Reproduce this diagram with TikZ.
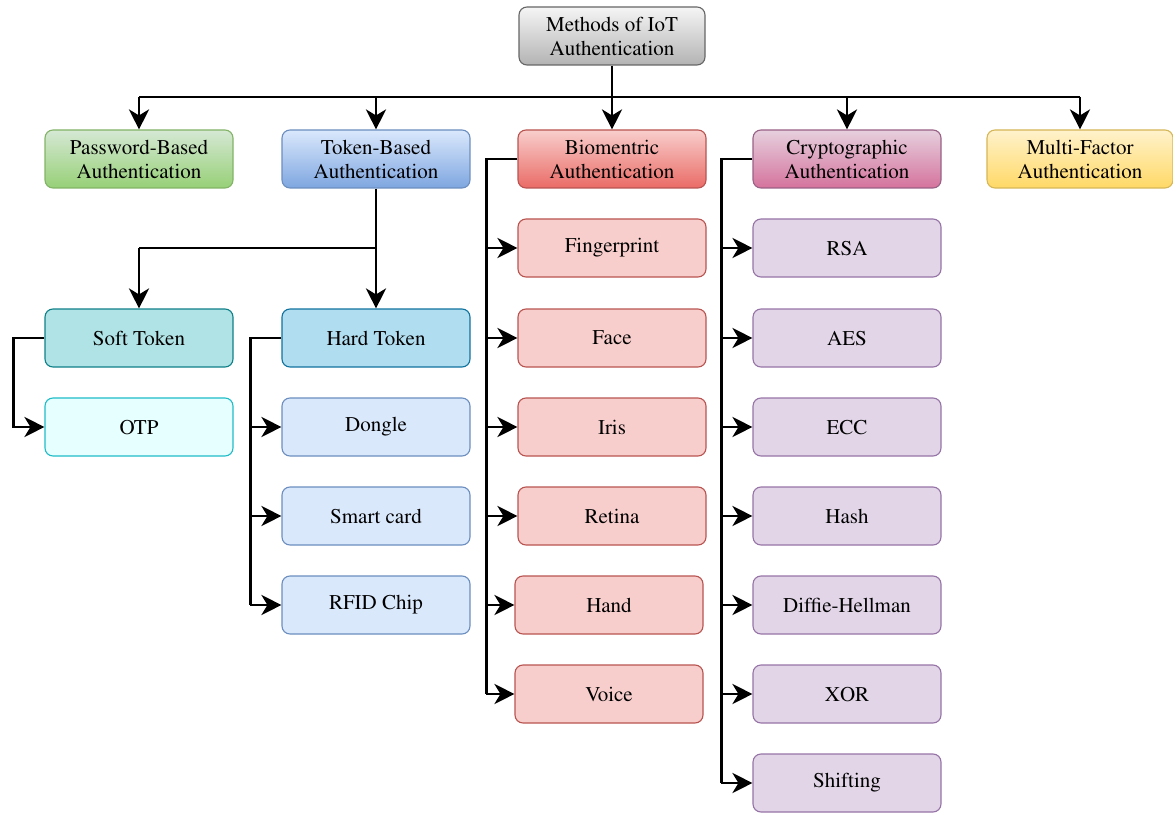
\documentclass[tikz,border=0pt]{standalone}
\usepackage[T1]{fontenc}
\usepackage{mathptmx}
\usetikzlibrary{arrows.meta,calc}

% palette
\definecolor{rootTop}{HTML}{F5F5F5}\definecolor{rootBot}{HTML}{B3B3B3}\definecolor{rootLine}{HTML}{666666}
\definecolor{grTop}{HTML}{D5E8D4}\definecolor{grBot}{HTML}{97D077}\definecolor{grLine}{HTML}{82B366}
\definecolor{blTop}{HTML}{DAE8FC}\definecolor{blBot}{HTML}{7EA6E0}\definecolor{blLine}{HTML}{6C8EBF}
\definecolor{rdTop}{HTML}{F8CECC}\definecolor{rdBot}{HTML}{EA6B66}\definecolor{rdLine}{HTML}{B85450}
\definecolor{pkTop}{HTML}{E6D0DE}\definecolor{pkBot}{HTML}{D5739D}\definecolor{pkLine}{HTML}{996185}
\definecolor{ylTop}{HTML}{FFF2CC}\definecolor{ylBot}{HTML}{FFD966}\definecolor{ylLine}{HTML}{D6B656}
\definecolor{softFill}{HTML}{B0E3E6}\definecolor{softLine}{HTML}{0E8088}
\definecolor{hardFill}{HTML}{B1DDF0}\definecolor{hardLine}{HTML}{10739E}
\definecolor{otpFill}{HTML}{E6FFFF}\definecolor{otpLine}{HTML}{1FBCC8}
\definecolor{purFill}{HTML}{E1D5E7}\definecolor{purLine}{HTML}{9673A6}

\tikzset{
  box/.style={rectangle, rounded corners=8pt, minimum width=188pt, minimum height=58pt,
    line width=1.1pt, align=center, inner sep=0pt, text=black,
    font=\fontsize{21}{24}\selectfont},
  grad/.style n args={3}{box, draw=#3, top color=#1, bottom color=#2, shading angle=0},
  flat/.style n args={2}{box, draw=#2, fill=#1},
  link/.style={line width=2.9pt, black},
  conn/.style={link, -{Stealth[length=20pt, width=20pt, inset=6pt]}},
}

\begin{document}
\begin{tikzpicture}[x=1pt, y=-1pt]
\useasboundingbox (0,0) rectangle (1173,813);

% root
\node[grad={rootTop}{rootBot}{rootLine}, minimum width=186pt] (root) at (612,36) {Methods of IoT\\Authentication};

% categories
\node[grad={grTop}{grBot}{grLine}] (pwd) at (139,159) {Password-Based\\Authentication};
\node[grad={blTop}{blBot}{blLine}] (tok) at (376,159) {Token-Based\\Authentication};
\node[grad={rdTop}{rdBot}{rdLine}] (bio) at (612,159) {Biomentric\\Authentication};
\node[grad={pkTop}{pkBot}{pkLine}] (cry) at (847,159) {Cryptographic\\Authentication};
\node[grad={ylTop}{ylBot}{ylLine}, minimum width=186pt] (mfa) at (1080,159) {Multi-Factor\\Authentication};

% token sub-branches
\node[flat={softFill}{softLine}] (soft) at (139,338) {Soft Token};
\node[flat={hardFill}{hardLine}] (hard) at (376,338) {Hard Token};
\node[flat={otpFill}{otpLine}] (otp) at (139,427) {OTP};
\node[flat={blTop}{blLine}] (dongle) at (376,427) {Dongle};
\node[flat={blTop}{blLine}] (smart) at (376,516) {Smart card};
\node[flat={blTop}{blLine}] (rfid) at (376,605) {RFID Chip};

% biometric items
\node[flat={rdTop}{rdLine}] (finger) at (612,248) {Fingerprint};
\node[flat={rdTop}{rdLine}] (face) at (612,338) {Face};
\node[flat={rdTop}{rdLine}] (iris) at (612,427) {Iris};
\node[flat={rdTop}{rdLine}] (retina) at (612,516) {Retina};
\node[flat={rdTop}{rdLine}] (hand) at (609,605) {Hand};
\node[flat={rdTop}{rdLine}] (voice) at (609,694) {Voice};

% cryptographic items
\node[flat={purFill}{purLine}] (rsa) at (847,248) {RSA};
\node[flat={purFill}{purLine}] (aes) at (847,338) {AES};
\node[flat={purFill}{purLine}] (ecc) at (847,427) {ECC};
\node[flat={purFill}{purLine}] (hash) at (847,516) {Hash};
\node[flat={purFill}{purLine}] (dh) at (847,605) {Diffie-Hellman};
\node[flat={purFill}{purLine}] (xor) at (847,694) {XOR};
\node[flat={purFill}{purLine}] (shift) at (847,783) {Shifting};

% top bus
\coordinate (busL) at (pwd.north |- 0,97);
\coordinate (busR) at (mfa.north |- 0,97);
\draw[link] (busL) -- (busR);
\draw[conn] (root.south) -- (bio.north);
\draw[conn] (busL) -- (pwd.north);
\draw[conn] (tok.north |- busL) -- (tok.north);
\draw[conn] (cry.north |- busL) -- (cry.north);
\draw[conn] (busR) -- (mfa.north);

% token split
\coordinate (tokJ) at (tok.south |- 0,248);
\draw[link] (tok.south) -- (tokJ) -- (soft.north |- tokJ);
\draw[conn] (soft.north |- tokJ) -- (soft.north);
\draw[conn] (tokJ) -- (hard.north);

% soft token -> OTP
\coordinate (sx) at ($(soft.west)+(-31,0)$);
\draw[conn] (soft.west) -- (sx) |- (otp.west);

% hard token children
\coordinate (hx) at ($(hard.west)+(-31,0)$);
\draw[link] (hard.west) -- (hx) -- (hx |- rfid.west);
\foreach \n in {dongle,smart,rfid} \draw[conn] (hx |- \n.west) -- (\n.west);

% biometric children
\coordinate (bx) at ($(bio.west)+(-31,0)$);
\draw[link] (bio.west) -- (bx) -- (bx |- voice.west);
\foreach \n in {finger,face,iris,retina,hand,voice} \draw[conn] (bx |- \n.west) -- (\n.west);

% cryptographic children
\coordinate (cx) at ($(cry.west)+(-31,0)$);
\draw[link] (cry.west) -- (cx) -- (cx |- shift.west);
\foreach \n in {rsa,aes,ecc,hash,dh,xor,shift} \draw[conn] (cx |- \n.west) -- (\n.west);
\end{tikzpicture}
\end{document}
